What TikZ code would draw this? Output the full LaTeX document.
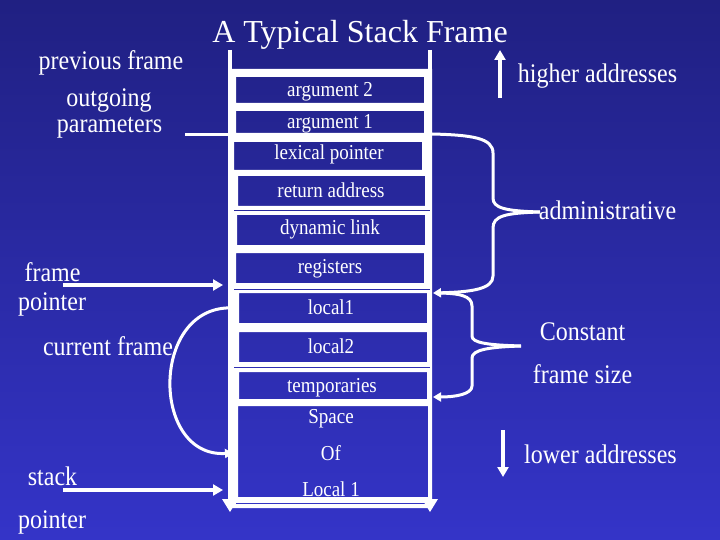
\documentclass[tikz,border=0pt]{standalone}
\usepackage{fontspec}
\usepackage{graphicx}
\setmainfont{Liberation Serif}
\usetikzlibrary{arrows.meta}
\definecolor{bgtop}{RGB}{32,32,130}
\definecolor{bgbot}{RGB}{52,52,200}
\newcommand{\tallt}[1]{\scalebox{1}[1.12]{#1}}
\begin{document}
\begin{tikzpicture}[x=1pt,y=-1pt,
  lbl/.style={anchor=base, inner sep=0pt, text=white, font=\fontsize{24}{28}\selectfont},
  boxlbl/.style={anchor=base, inner sep=0pt, text=white, font=\fontsize{19}{22}\selectfont},
  wline/.style={draw=white, line width=3pt},
  warrow/.style={draw=white, line width=3.5pt, -{Triangle[length=10pt,width=11pt]}},
  bracearrow/.style={draw=white, line width=3pt, -{Triangle[length=8pt,width=9pt]}},
  thindark/.style={line width=1pt}
]
\shade[top color=bgtop, bottom color=bgbot] (0,0) rectangle (720,540);
\useasboundingbox (0,0) rectangle (720,540);

% stack column
\draw[white, line width=4pt] (230,50) -- (230,70);
\draw[white, line width=4pt] (430,50) -- (430,70);
\fill[white, even odd rule] (228,69) rectangle (432,508)
 (236,77) rectangle (424,103)
 (236,111) rectangle (424,133)
 (234,142) rectangle (422,170)
 (238,176) rectangle (425,206)
 (237,215) rectangle (425,245)
 (236,253) rectangle (424,283)
 (239,293) rectangle (427,323)
 (239,332) rectangle (427,362)
 (239,372) rectangle (427,399)
 (238,406) rectangle (428,497);
\draw[thindark, draw=bgbot!39!bgtop] (234,211) -- (430,211);
\draw[thindark, draw=bgbot!54!bgtop] (234,289) -- (430,289);
\draw[thindark, draw=bgbot!68!bgtop] (234,367) -- (430,367);
\draw[thindark, draw=bgbot!93!bgtop] (236,503) -- (428,503);
\fill[white] (222,499) -- (238,499) -- (230,512) -- cycle;
\fill[white] (422,499) -- (438,499) -- (430,512) -- cycle;

% box labels
\node[boxlbl] (a2) at (330,97) {\tallt{argument 2}};
\node[boxlbl] (a1) at (330,129) {\tallt{argument 1}};
\node[boxlbl] (lp) at (329,160) {\tallt{lexical pointer}};
\node[boxlbl] (ra) at (331,197) {\tallt{return address}};
\node[boxlbl] (dl) at (330,235) {\tallt{dynamic link}};
\node[boxlbl] (rg) at (330,273) {\tallt{registers}};
\node[boxlbl] (l1) at (331,314) {\tallt{local1}};
\node[boxlbl] (l2) at (331,353) {\tallt{local2}};
\node[boxlbl] (tp) at (332,392) {\tallt{temporaries}};
\node[boxlbl] (sp1) at (331,423) {\tallt{Space}};
\node[boxlbl] (sp2) at (331,460) {\tallt{Of}};
\node[boxlbl] (sp3) at (331,496) {\tallt{Local 1}};

% title and labels
\node[anchor=base, inner sep=0pt, text=white, font=\fontsize{32}{38}\selectfont] (title) at (360,43) {A Typical Stack Frame};
\node[lbl] (prev) at (111,70) {\tallt{previous frame}};
\node[lbl] (out1) at (109,107) {\tallt{outgoing}};
\node[lbl] (out2) at (109.5,133) {\tallt{parameters}};
\node[lbl] (fr1) at (52.5,281) {\tallt{frame}};
\node[lbl] (fr2) at (52,310) {\tallt{pointer}};
\node[lbl] (cur) at (108,355) {\tallt{current frame}};
\node[lbl] (st1) at (52.5,485) {\tallt{stack}};
\node[lbl] (st2) at (52,528) {\tallt{pointer}};
\node[lbl] (hi) at (597.5,83) {\tallt{higher addresses}};
\node[lbl] (adm) at (607.5,219) {\tallt{administrative}};
\node[lbl] (con1) at (582.5,340) {\tallt{Constant}};
\node[lbl] (con2) at (582.5,383) {\tallt{frame size}};
\node[lbl] (lo) at (600.5,463) {\tallt{lower addresses}};

% connectors
\coordinate (opS) at (185,135); \coordinate (opE) at (229,135);
\draw[wline] (opS) -- (opE);
\coordinate (fpS) at (63,285); \coordinate (fpE) at (223,285);
\draw[warrow] (fpS) -- (fpE);
\coordinate (spS) at (63,490); \coordinate (spE) at (223,490);
\draw[warrow] (spS) -- (spE);
\coordinate (cfS) at (234,308); \coordinate (cfE) at (233,453);
\draw[bracearrow] (cfS) .. controls (150,303) and (150,458) .. (cfE);
\coordinate (haS) at (500,98); \coordinate (haE) at (500,50);
\draw[warrow] (haS) -- (haE);
\coordinate (laS) at (503,430); \coordinate (laE) at (503,477);
\draw[warrow] (laS) -- (laE);

% administrative brace
\coordinate (adTop) at (432,134); \coordinate (adTip) at (540,212); \coordinate (adBot) at (433,293);
\draw[wline] (adTop) .. controls (472,135) and (493,138) .. (493,153) -- (493,198) .. controls (493,208) and (505,211) .. (adTip);
\draw[bracearrow] (adTip) .. controls (505,213) and (493,216) .. (493,228) -- (493,276) .. controls (493,289) and (472,292) .. (adBot);

% constant frame size brace
\coordinate (csTop) at (436,293); \coordinate (csTip) at (521,346); \coordinate (csBot) at (433,397);
\draw[wline] (csTop) .. controls (460,293) and (472,296) .. (472,306) -- (472,336) .. controls (472,343) and (488,345) .. (csTip);
\draw[bracearrow] (csTip) .. controls (488,347) and (472,350) .. (472,358) -- (472,386) .. controls (472,394) and (456,397) .. (csBot);
\end{tikzpicture}
\end{document}
